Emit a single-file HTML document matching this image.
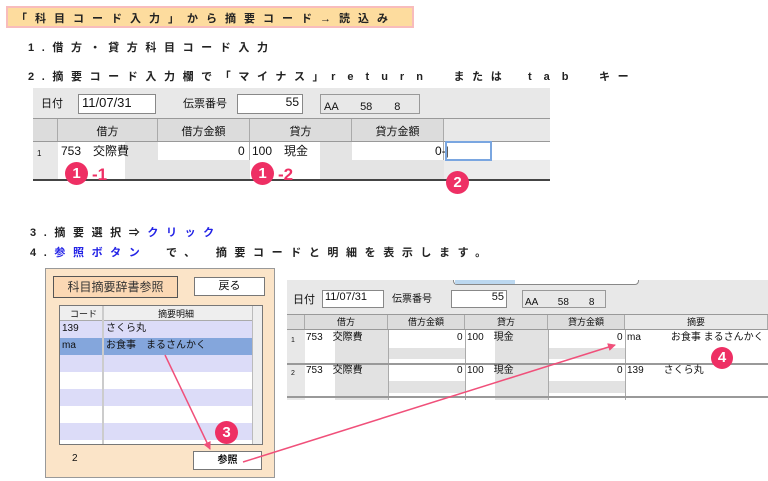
<!DOCTYPE html>
<html><head><meta charset="utf-8"><style>
*{margin:0;padding:0;box-sizing:border-box}
body{width:768px;height:481px;background:#fff;position:relative;overflow:hidden;font-family:"Liberation Sans","Noto Sans CJK JP",sans-serif;color:#111}
.a{position:absolute;white-space:nowrap}
.t{font-size:11px;letter-spacing:7.6px;font-weight:bold;color:#222}
.lt{letter-spacing:12px}
.b{color:#2323e6}
.cell{position:absolute;font-size:11px;line-height:14px}
.hd{position:absolute;font-size:11px;text-align:center;border-right:1px solid #aaa;background:#dcdcdc}
.num{position:absolute;border-radius:50%;background:#ee2f64;color:#fff;font-weight:bold;text-align:center;font-size:15px}
.pk{color:#ee2f64;font-weight:bold;font-size:17px}
</style></head><body>
<div class="a" style="left:6px;top:6px;width:408px;height:22px;background:#fddc9e;border:2px solid #f8bcbc"></div>
<div class="a t" style="left:16px;top:10px;letter-spacing:8px">「科目コード入力」から摘要コード→読込み</div>
<div class="a t" style="left:28px;top:39px">1.借方・貸方科目コード入力</div>
<div class="a t" style="left:28px;top:68px">2.摘要コード入力欄で「マイナス」<span class="lt">return</span>　または　<span class="lt">tab</span>　キー</div>
<div class="a t" style="left:30px;top:224px">3.摘要選択⇒<span class="b">クリック</span></div>
<div class="a t" style="left:30px;top:244px">4.<span class="b">参照ボタン</span>　で、　摘要コードと明細を表示します。</div>

<!-- screenshot 1 -->
<div class="a" style="left:33px;top:88px;width:517px;height:93px;background:#e8e8e8;border-bottom:2px solid #444;overflow:hidden">
 <div class="cell" style="left:8px;top:9px">日付</div>
 <div class="a" style="left:45px;top:6px;width:78px;height:20px;background:#fff;border:1px solid #888;font-size:13px;padding-left:3px">11/07/31</div>
 <div class="cell" style="left:150px;top:9px">伝票番号</div>
 <div class="a" style="left:204px;top:6px;width:66px;height:20px;background:#fff;border:1px solid #888;font-size:12px;text-align:right;padding-right:3px">55</div>
 <div class="a" style="left:287px;top:6px;width:100px;height:20px;border:1px solid #999;font-size:11px;padding:3px">AA　　58　　8</div>
 <div class="a" style="left:0;top:30px;width:517px;height:1px;background:#999"></div>
 <div class="hd" style="left:0;top:31px;width:25px;height:22px"></div>
 <div class="hd" style="left:25px;top:31px;width:100px;height:22px;padding-top:4px">借方</div>
 <div class="hd" style="left:125px;top:31px;width:92px;height:22px;padding-top:4px">借方金額</div>
 <div class="hd" style="left:217px;top:31px;width:102px;height:22px;padding-top:4px">貸方</div>
 <div class="hd" style="left:319px;top:31px;width:92px;height:22px;padding-top:4px">貸方金額</div>
 <div class="hd" style="left:411px;top:31px;width:120px;height:22px;padding-top:4px;background:#e8e8e8">　　　　　　　　　　　　　摘要</div>
 <div class="a" style="left:0;top:53px;width:517px;height:1px;background:#999"></div>
 <div class="a" style="left:25px;top:54px;width:100px;height:37px;background:#fff;border-right:1px solid #aaa"></div>
 <div class="a" style="left:125px;top:54px;width:92px;height:37px;background:#fff;border-right:1px solid #aaa"></div>
 <div class="a" style="left:125px;top:72px;width:92px;height:19px;background:#e4e4e4"></div>
 <div class="a" style="left:217px;top:54px;width:102px;height:37px;background:#fff;border-right:1px solid #aaa"></div>
 <div class="a" style="left:319px;top:54px;width:92px;height:37px;background:#fff;border-right:1px solid #aaa"></div>
 <div class="a" style="left:319px;top:72px;width:92px;height:19px;background:#e4e4e4"></div>
 <div class="a" style="left:411px;top:54px;width:106px;height:37px;background:#fff"></div>
 <div class="a" style="left:411px;top:72px;width:106px;height:19px;background:#ececec"></div>
 <div class="a" style="left:92px;top:54px;width:33px;height:37px;background:#e4e4e4"></div>
 <div class="a" style="left:287px;top:54px;width:32px;height:37px;background:#e4e4e4"></div>
 <div class="cell" style="left:4px;top:59px;font-size:8px">1</div>
 <div class="cell" style="left:28px;top:56px;font-size:12px">753　交際費</div>
 <div class="cell" style="left:205px;top:56px;font-size:12px">0</div>
 <div class="cell" style="left:219px;top:56px;font-size:12px">100　現金</div>
 <div class="cell" style="left:402px;top:56px;font-size:12px">0-|</div>
 <div class="a" style="left:412px;top:53px;width:47px;height:20px;border:2px solid #7aa6e0"></div>
</div>
<div class="num" style="left:65px;top:162px;width:23px;height:23px;line-height:23px">1</div><div class="a pk" style="left:92px;top:165px">-1</div>
<div class="num" style="left:251px;top:162px;width:23px;height:23px;line-height:23px">1</div><div class="a pk" style="left:278px;top:165px">-2</div>
<div class="num" style="left:446px;top:171px;width:23px;height:23px;line-height:23px">2</div>

<!-- dialog -->
<div class="a" style="left:45px;top:268px;width:230px;height:210px;background:#fbe4c8;border:1px solid #999"></div>
<div class="a" style="left:53px;top:276px;width:125px;height:22px;background:#fbd8b4;border:1px solid #555;font-size:12px;text-align:center;line-height:20px;color:#333">科目摘要辞書参照</div>
<div class="a" style="left:194px;top:277px;width:71px;height:19px;background:#fff;border:1px solid #777;font-size:11px;text-align:center;line-height:17px">戻る</div>
<div class="a" style="left:59px;top:305px;width:204px;height:140px;background:#fff;border:1px solid #777;overflow:hidden">
 <div class="a" style="left:0;top:0;width:204px;height:15px;background:#eee;border-bottom:1px solid #aaa;font-size:9px"><span class="a" style="left:10px;top:1px">コード</span><span class="a" style="left:98px;top:1px">摘要明細</span></div>
 <div class="a" style="left:0;top:15px;width:192px;height:17px;background:#dcdcf8"></div>
 <div class="a" style="left:0;top:32px;width:192px;height:17px;background:#84a6dc"></div>
 <div class="a" style="left:0;top:49px;width:192px;height:17px;background:#dcdcf8"></div>
 <div class="a" style="left:0;top:83px;width:192px;height:17px;background:#dcdcf8"></div>
 <div class="a" style="left:0;top:117px;width:192px;height:17px;background:#dcdcf8"></div>
 <div class="a" style="left:42px;top:0;width:2px;height:140px;background:#ccc"></div>
 <div class="a" style="left:192px;top:0;width:12px;height:140px;background:#eee;border-left:1px solid #bbb"></div>
 <div class="cell" style="left:2px;top:16px;font-size:10px">139</div><div class="cell" style="left:46px;top:16px;font-size:10px">さくら丸</div>
 <div class="cell" style="left:2px;top:33px;font-size:10px">ma</div><div class="cell" style="left:46px;top:33px;font-size:10px">お食事　まるさんかく</div>
</div>
<div class="cell" style="left:72px;top:452px;font-size:10px">2</div>
<div class="a" style="left:193px;top:451px;width:69px;height:19px;background:#fff;border:1px solid #777;font-size:10px;text-align:center;line-height:17px;font-weight:bold">参照</div>
<div class="num" style="left:215px;top:421px;width:23px;height:23px;line-height:23px">3</div>

<!-- screenshot 3 -->
<div class="a" style="left:287px;top:280px;width:481px;height:120px;background:#e8e8e8;overflow:hidden">
 <div class="a" style="left:166px;top:-4px;width:186px;height:9px;border:1px solid #888;border-radius:4px;background:#fff"></div>
 <div class="a" style="left:168px;top:-4px;width:60px;height:8px;background:#bcd8f0"></div>
 <div class="cell" style="left:6px;top:13px">日付</div>
 <div class="a" style="left:35px;top:10px;width:62px;height:18px;background:#fff;border:1px solid #888;font-size:11px;padding-left:2px">11/07/31</div>
 <div class="cell" style="left:95px;top:13px;font-size:10px">　伝票番号</div>
 <div class="a" style="left:164px;top:10px;width:56px;height:18px;background:#fff;border:1px solid #888;font-size:11px;text-align:right;padding-right:2px">55</div>
 <div class="a" style="left:235px;top:10px;width:84px;height:18px;border:1px solid #999;font-size:10px;padding:2px">AA　　58　　8</div>
 <div class="a" style="left:0;top:34px;width:481px;height:1px;background:#999"></div>
 <div class="hd" style="left:0;top:35px;width:18px;height:14px"></div>
 <div class="hd" style="left:18px;top:35px;width:83px;height:14px;font-size:9px">借方</div>
 <div class="hd" style="left:101px;top:35px;width:77px;height:14px;font-size:9px">借方金額</div>
 <div class="hd" style="left:178px;top:35px;width:83px;height:14px;font-size:9px">貸方</div>
 <div class="hd" style="left:261px;top:35px;width:77px;height:14px;font-size:9px">貸方金額</div>
 <div class="hd" style="left:338px;top:35px;width:143px;height:14px;font-size:9px;background:#e8e8e8">摘要</div>
 <div class="a" style="left:0;top:49px;width:481px;height:1px;background:#999"></div>
 <div class="a" style="left:18px;top:50px;width:463px;height:70px;background:#fff"></div>
 <div class="a" style="left:48px;top:50px;width:53px;height:70px;background:#e2e2e2"></div>
 <div class="a" style="left:101px;top:68px;width:77px;height:11px;background:#e2e2e2"></div>
 <div class="a" style="left:101px;top:101px;width:77px;height:12px;background:#e2e2e2"></div>
 <div class="a" style="left:208px;top:50px;width:53px;height:70px;background:#e2e2e2"></div>
 <div class="a" style="left:261px;top:68px;width:77px;height:11px;background:#e2e2e2"></div>
 <div class="a" style="left:261px;top:101px;width:77px;height:12px;background:#e2e2e2"></div>
 <div class="a" style="left:101px;top:50px;width:1px;height:70px;background:#aaa"></div>
 <div class="a" style="left:178px;top:50px;width:1px;height:70px;background:#aaa"></div>
 <div class="a" style="left:261px;top:50px;width:1px;height:70px;background:#aaa"></div>
 <div class="a" style="left:338px;top:50px;width:1px;height:70px;background:#aaa"></div>
 <div class="a" style="left:0;top:83px;width:481px;height:2px;background:#999"></div>
 <div class="a" style="left:0;top:116px;width:481px;height:2px;background:#999"></div>
 <div class="cell" style="left:4px;top:54px;font-size:7px">1</div>
 <div class="cell" style="left:19px;top:51px;font-size:10px">753　交際費</div>
 <div class="cell" style="left:170px;top:51px;font-size:10px">0</div>
 <div class="cell" style="left:180px;top:51px;font-size:10px">100　現金</div>
 <div class="cell" style="left:330px;top:51px;font-size:10px">0</div>
 <div class="cell" style="left:340px;top:51px;font-size:10px">ma　　　お食事 まるさんかく</div>
 <div class="cell" style="left:4px;top:87px;font-size:7px">2</div>
 <div class="cell" style="left:19px;top:84px;font-size:10px">753　交際費</div>
 <div class="cell" style="left:170px;top:84px;font-size:10px">0</div>
 <div class="cell" style="left:180px;top:84px;font-size:10px">100　現金</div>
 <div class="cell" style="left:330px;top:84px;font-size:10px">0</div>
 <div class="cell" style="left:340px;top:84px;font-size:10px">139　　さくら丸</div>
</div>
<div class="num" style="left:711px;top:347px;width:22px;height:22px;line-height:22px">4</div>

<svg class="a" style="left:0;top:0" width="768" height="481">
 <defs><marker id="m" markerWidth="8" markerHeight="8" refX="7" refY="4" orient="auto" markerUnits="userSpaceOnUse"><path d="M0,0 L8,4 L0,8 Z" fill="#f0507a"/></marker></defs>
 <line x1="165" y1="355" x2="210" y2="449" stroke="#f0507a" stroke-width="1.5" marker-end="url(#m)"/>
 <line x1="243" y1="462" x2="615" y2="345" stroke="#f0507a" stroke-width="1.5" marker-end="url(#m)"/>
</svg>
</body></html>
